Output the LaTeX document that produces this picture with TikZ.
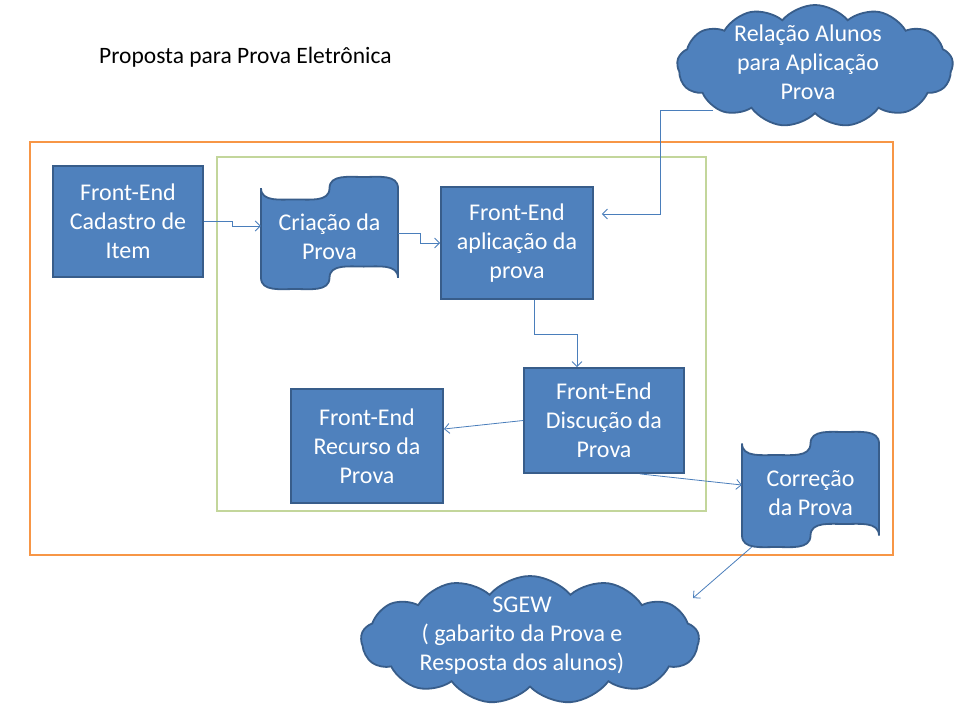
\documentclass[tikz,border=0pt]{standalone}
\usepackage{fontspec}
\setmainfont{Carlito}
\usetikzlibrary{shapes.symbols,arrows.meta,calc}
\definecolor{fillb}{HTML}{4F81BD}
\definecolor{bdr}{HTML}{385D8A}
\definecolor{conn}{HTML}{4A7EBB}
\definecolor{orng}{HTML}{F79646}
\definecolor{grn}{HTML}{C3D69B}
\newcommand{\ptape}[6]{%
  \draw[draw=bdr,fill=fillb,line width=1.8pt]
    (#2,{#3+#5/10}) to[out=-90,in=180] ({#2+#4/4},{#3+#5/5})
    to[out=0,in=-90] ({#2+#4/2},{#3+#5/10})
    to[out=90,in=180] ({#2+3*#4/4},{#3})
    to[out=0,in=90] ({#2+#4},{#3+#5/10})
    -- ({#2+#4},{#3+0.9*#5})
    to[out=90,in=0] ({#2+3*#4/4},{#3+0.8*#5})
    to[out=180,in=90] ({#2+#4/2},{#3+0.9*#5})
    to[out=-90,in=0] ({#2+#4/4},{#3+#5})
    to[out=180,in=-90] (#2,{#3+0.9*#5}) -- cycle;
  \node[txt,minimum width=#4,minimum height=#5] (#1) at ({#2+#4/2},{#3+#5/2}) {};
  \node[txt] (#1-t) at ({#2+#4/2},{#3+#5/2+4}) {#6};}
\begin{document}
\begin{tikzpicture}[x=1pt,y=-1pt,
  txt/.style={text=white,align=center,font=\fontsize{24}{29}\selectfont,inner sep=0pt},
  blk/.style={txt,draw=bdr,fill=fillb,line width=1.8pt},
  cloudshape/.style={cloud,cloud puffs=13,cloud puff arc=100,cloud ignores aspect,draw=bdr,fill=fillb,line width=1.8pt,inner sep=0pt},
  lnk/.style={draw=conn,line width=0.8pt,-{Straight Barb[length=5pt,width=10pt]}},
  outerframe/.style={line width=2.5pt}]
\useasboundingbox (0,0) rectangle (960,720);
\fill[white] (0,0) rectangle (960,720);
% title
\node[anchor=west,font=\fontsize{23.5}{28}\selectfont,inner sep=0pt] (title) at (99,57) {Proposta para Prova Eletrônica};
% frames
\draw[outerframe,draw=orng] (30,142) rectangle (893,555);
\draw[outerframe,draw=grn] (217,157) rectangle (706,511);
% boxes
\node[blk,minimum width=150,minimum height=111] (cad) at (128,221.5) {Front-End\\Cadastro de\\Item};
\node[blk,minimum width=152,minimum height=112] (apl) at (517,243) {Front-End\\aplicação da\\prova};
\node[blk,minimum width=160,minimum height=105] (dis) at (604,420.5) {Front-End\\Discução da\\Prova};
\node[blk,minimum width=152,minimum height=114] (rec) at (367,446) {Front-End\\Recurso da\\Prova};
\ptape{cri}{261}{177}{137}{112}{Criação da\\Prova}
\ptape{cor}{742}{432}{137}{115}{Correção\\da Prova}
% clouds
\node[cloudshape,minimum width=276,minimum height=122] (relc) at (815,66) {};
\node[txt] (rel) at (808,62) {Relação Alunos\\para Aplicação\\Prova};
\node[cloudshape,minimum width=338,minimum height=128] (sgewc) at (530,640) {};
\node[txt] (sgew) at (522,636) {SGEW\\( gabarito da Prova e\\Resposta dos alunos)};
\coordinate (relout) at (713,110);
\coordinate (sgin) at (693,598);
% connectors
\draw[lnk] (cad.east) -- (232,221.5) |- ([yshift=7pt]cri.west);
\draw[lnk] (cri.east) -- (420,233) |- (apl.west);
\draw[lnk] (relout) -| (660,214) -- ([xshift=8pt,yshift=29pt]apl.east);
\draw[lnk] ([xshift=17pt]apl.south) -- ++(0,34) -| ([xshift=-27pt]dis.north);
\draw[lnk] (dis.west) -- ([yshift=17pt]rec.east);
\draw[lnk] ([xshift=36pt]dis.south) -- ([yshift=4.5pt]cor.west);
\draw[lnk] ([xshift=-59pt]cor.south) -- (sgin);
\end{tikzpicture}
\end{document}
